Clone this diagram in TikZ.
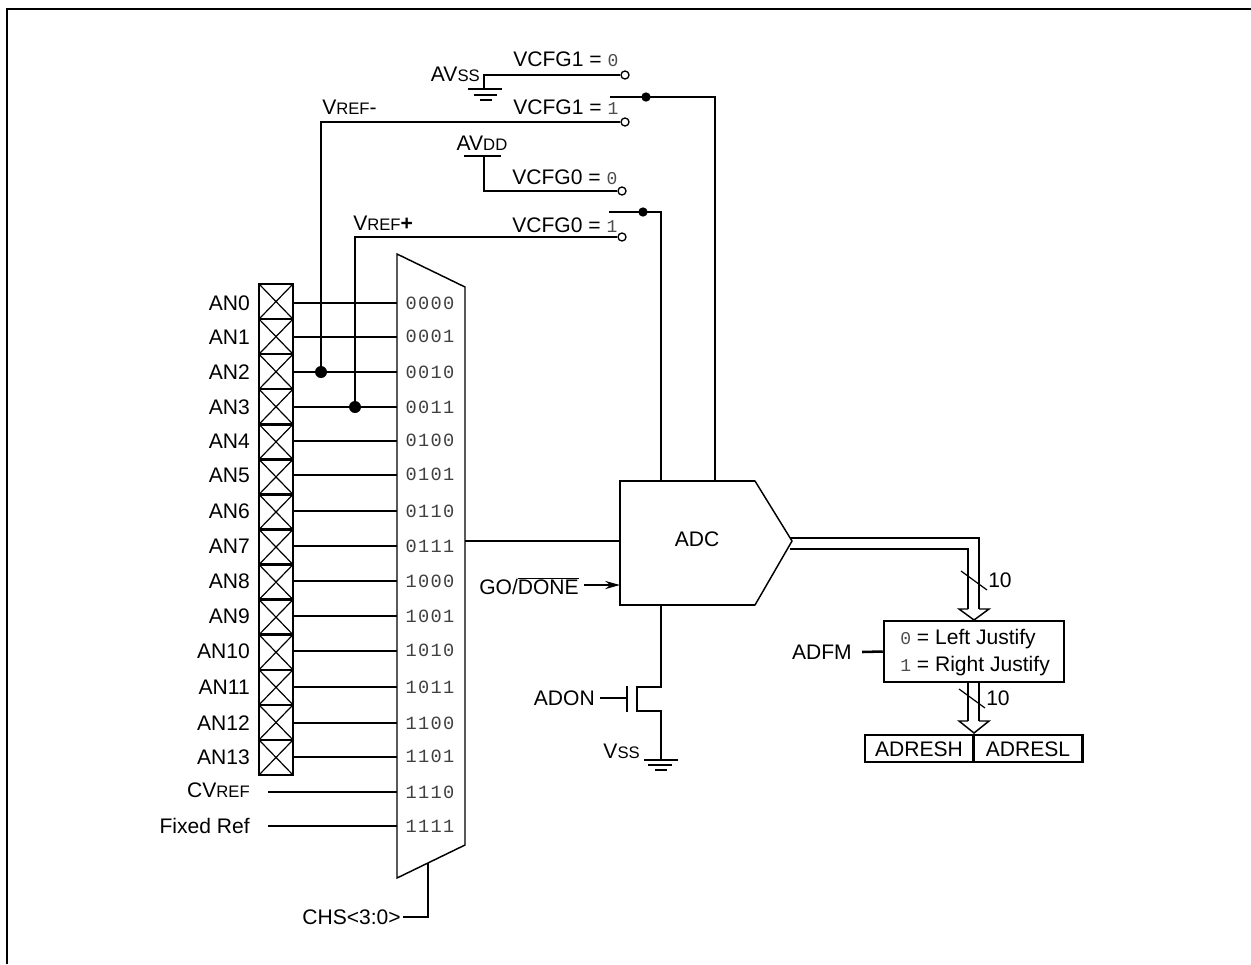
\documentclass[tikz,border=0pt]{standalone}
\usepackage{fontspec}
\setmainfont{Liberation Sans}
\setmonofont[LetterSpace=7]{Liberation Mono}
\usetikzlibrary{positioning, arrows.meta}
\newcommand{\smc}[1]{{\fontsize{12.5}{13}\selectfont #1}}
\newcommand{\dig}[1]{{\fontsize{13.5}{14}\selectfont\ttfamily\color{black!70} #1}}

\begin{document}
\begin{tikzpicture}[
    x=0.75pt, y=-0.75pt,
    wire/.style={line width=1.9pt, line join=miter},
    thinwire/.style={line width=1.1pt, line join=miter},
    lbl/.style={font=\fontsize{15.8}{18}\selectfont, inner sep=0pt},
    code/.style={font=\fontsize{14}{16}\selectfont\ttfamily, inner sep=0pt, text=black!75},
    pad/.style={draw, line width=1.9pt, minimum width=25.5pt, minimum height=26.3pt, inner sep=0pt,
        path picture={\draw[line width=0.9pt]
          (path picture bounding box.north west) -- (path picture bounding box.south east)
          (path picture bounding box.north east) -- (path picture bounding box.south west);}},
    contact/.style={circle, draw, fill=white, line width=1pt, minimum size=6pt, inner sep=0pt},
    junct/.style={circle, fill=black, minimum size=9pt, inner sep=0pt},
    smalljunct/.style={circle, fill=black, minimum size=7pt, inner sep=0pt},
    boxed/.style={draw, line width=1.9pt, inner sep=0pt},
  ]
  \useasboundingbox (0,0) rectangle (1251,964);

  % Outer frame
  \draw[line width=2.1pt] (7,964) -- (7,9) -- (1251,9);

  % Mux body
  \draw[thinwire, fill=white] (397,254) -- (465,287) -- (465,845) -- (397,878) -- cycle;
  \coordinate (muxout) at (465,541);
  \coordinate (muxsel) at (428,863);

  % Analog pads and mux inputs
  \foreach \i/\yy/\ycode/\bits in {0/303/303/0000, 1/337/336/0001, 2/372/372/0010, 3/407/407/0011,
      4/441/440/0100, 5/475/474/0101, 6/511/511/0110, 7/546/546/0111, 8/581/581/1000, 9/616/616/1001,
      10/651/650/1010, 11/687/687/1011, 12/723/723/1100, 13/757/756/1101} {
      \node[pad] (P\i) at (276,{284+35.07*(\i+0.5)}) {};
      \node[lbl, anchor=east] (L\i) at (250,\yy) {AN\i};
      \node[code] (B\i) at (430,\ycode) {\bits};
      \coordinate (S\i) at (397,\yy);
      \draw[wire] (L\i -| P\i.east) -- (S\i);
    }

  % Other mux inputs
  \node[lbl, anchor=east] (cvref) at (250,790) {CV\smc{REF}};
  \node[lbl, anchor=east] (fixedref) at (250,826) {Fixed Ref};
  \node[code] (B14) at (430,792) {1110};
  \node[code] (B15) at (430,826) {1111};
  \coordinate (cvstart) at (268,792);
  \coordinate (S14) at (397,792);
  \coordinate (fixstart) at (268,826);
  \coordinate (S15) at (397,826);
  \draw[wire] (cvstart) -- (S14);
  \draw[wire] (fixstart) -- (S15);

  % Channel select
  \node[lbl, anchor=east] (chs) at (401,917) {CHS<3:0>};
  \draw[wire] (chs.east) ++(2,0) -| (muxsel);

  % Reference contacts
  \node[contact] (C0) at (625,75) {};
  \node[contact] (C1) at (625,122) {};
  \node[contact] (C2) at (622,191) {};
  \node[contact] (C3) at (622,237) {};
  \node[lbl, anchor=base west] (cfg0) at (513,66) {VCFG1 = \dig{0}};
  \node[lbl, anchor=base west] (cfg1) at (513,114) {VCFG1 = \dig{1}};
  \node[lbl, anchor=base west] (cfg2) at (512,184) {VCFG0 = \dig{0}};
  \node[lbl, anchor=base west] (cfg3) at (512,232) {VCFG0 = \dig{1}};

  % VREF taps
  \node[junct] (Jm) at (321,372) {};
  \node[junct] (Jp) at (355,407) {};
  \node[lbl, anchor=base west] (vrefm) at (322,114) {V\smc{REF}-};
  \node[lbl, anchor=base west] (vrefp) at (353,230) {V\smc{REF}\textbf{+}};
  \draw[wire] (Jm) |- (C1.west);
  \draw[wire] (Jp) |- (C3.west);

  % AVss
  \node[lbl, anchor=base east] (avss) at (480,81) {AV\smc{SS}};
  \coordinate (gndA) at (484,89);
  \draw[wire] (C0.west) -| (gndA);
  \draw[wire] (468,89) -- (502,89);
  \draw[wire] (474,95) -- (497,95);
  \draw[wire] (480,100) -- (492,100);

  % AVdd
  \node[lbl, anchor=base] (avdd) at (482,150) {AV\smc{DD}};
  \coordinate (vdd) at (484,156);
  \draw[wire] (464,156) -- (501,156);
  \draw[wire] (vdd) |- (C2.west);

  % ADC
  \draw[thinwire, fill=white] (620,481) -- (755,481) -- (792,541) -- (755,605) -- (620,605) -- cycle;
  \draw[wire] (755,481) -- (620,481) -- (620,605) -- (755,605);
  \node[lbl] (adc) at (697,539) {ADC};
  \coordinate (adcin) at (620,541);
  \coordinate (adcref0) at (661,481);
  \coordinate (adcref1) at (715,481);
  \coordinate (adcgo) at (620,585);
  \coordinate (adcbot) at (661,605);
  \draw[wire] (muxout) -- (adcin);

  % Reference switches
  \coordinate (sw1) at (610,97);
  \coordinate (sw0) at (609,212);
  \node[smalljunct] (J1) at (646,97) {};
  \node[smalljunct] (J0) at (643,212) {};
  \draw[wire] (sw1) -| (adcref1);
  \draw[wire] (sw0) -| (adcref0);

  % GO/DONE
  \node[lbl, anchor=east] (go) at (579,586) {GO/$\overline{\mbox{DONE}}$};
  \draw[wire, -{Stealth[length=11pt, width=6pt]}] (go.east) ++(5,-1) -- (adcgo);

  % Power switch
  \node[lbl, anchor=east] (adon) at (595,698) {ADON};
  \node[lbl, anchor=base east] (vss) at (640,758) {V\smc{SS}};
  \coordinate (gate) at (627,698);
  \coordinate (gndB) at (661,760);
  \draw[wire] (adcbot) -- (661,687) -- (637,687) -- (637,711) -- (661,711) -- (gndB);
  \draw[wire] (627,686) -- (627,712);
  \draw[wire] (adon.east) ++(5,0) -- (gate);
  \draw[wire] (644,760) -- (678,760);
  \draw[wire] (648,765) -- (672,765);
  \draw[wire] (655,770) -- (667,770);

  % Justify box and result registers
  \node[boxed, minimum width=135pt, minimum height=45.7pt] (just) at (974,651.5) {};
  \node[lbl, anchor=west] (just0) at (900,639) {\dig{0} = Left Justify};
  \node[lbl, anchor=west] (just1) at (900,666) {\dig{1} = Right Justify};
  \node[lbl, anchor=east] (adfm) at (852,652) {ADFM};
  \draw[wire] (adfm.east) ++(10,0) -- (just.west);
  \node[boxed, minimum width=81.5pt, minimum height=20.2pt] (resh) at (919.5,748.5) {};
  \node[boxed, minimum width=81.5pt, minimum height=20.2pt] (resl) at (1028,748.5) {};
  \node[lbl] (reshtxt) at (919,749) {ADRESH};
  \node[lbl] (resltxt) at (1028,749) {ADRESL};

  % Output bus
  \coordinate (busa) at (790,538);
  \coordinate (busb) at (790,549);
  \draw[wire] (busa) -- (979,538) -- (979,609);
  \draw[wire] (busb) -- (968,549) -- (968,609);
  \draw[thinwire] (968,609) -- (959,609) -- (974,620) -- (989,609) -- (979,609);
  \draw[line width=0.9pt] (961,571) -- (987,590);
  \node[lbl, anchor=west] (bits0) at (988,580) {10};
  \draw[wire] (just.south -| 979,0) -- (979,721);
  \draw[wire] (just.south -| 968,0) -- (968,721);
  \draw[thinwire] (968,721) -- (959,721) -- (974,733) -- (989,721) -- (979,721);
  \draw[line width=0.9pt] (959,689) -- (985,708);
  \node[lbl, anchor=west] (bits1) at (986,698) {10};
\end{tikzpicture}
\end{document}
